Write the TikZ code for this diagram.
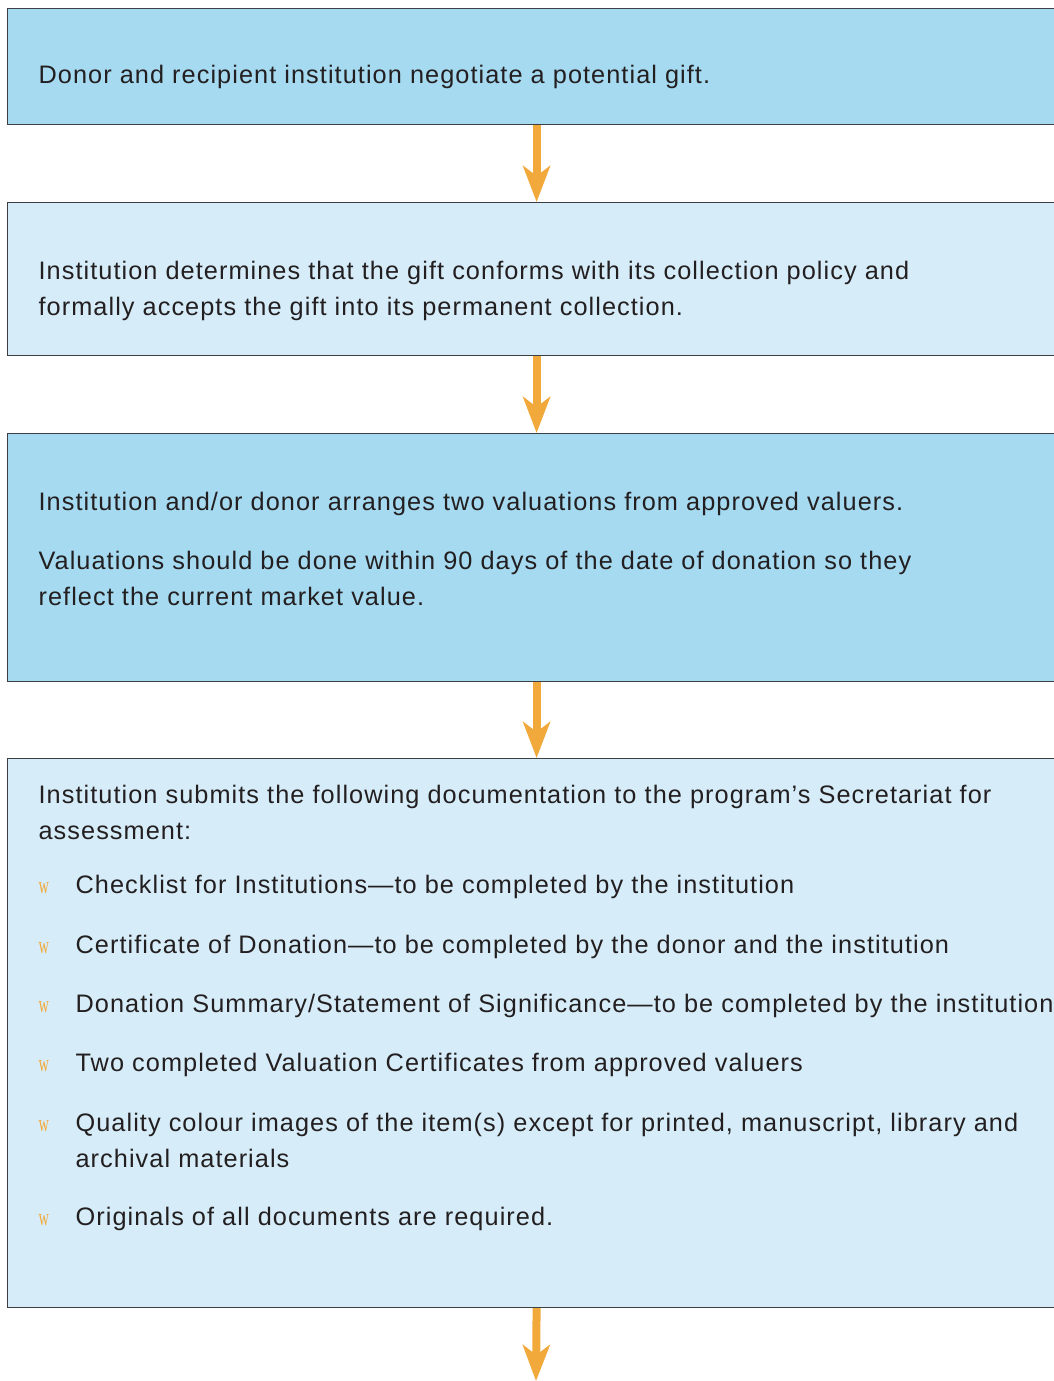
\documentclass[tikz,border=0pt]{standalone}
\usepackage{fontspec}
\usepackage{graphicx}
\setmainfont[LetterSpace=4.2]{Liberation Sans}
\newfontfamily\bulletfont{Liberation Serif}
\usetikzlibrary{arrows.meta}
\definecolor{boxdark}{HTML}{A5DAF1}
\definecolor{boxlight}{HTML}{D6EDF9}
\definecolor{boxline}{HTML}{3C3F44}
\definecolor{arrowor}{HTML}{F2A93B}
\definecolor{ink}{HTML}{231F20}
\newcommand{\wbul}{{\bulletfont\fontsize{24}{24}\selectfont\scalebox{0.6}[1]{w}}}

\begin{document}
\begin{tikzpicture}[x=1pt, y=1pt, line width=1.2pt, font=\fontsize{25.3}{36}\selectfont, text=ink]
	\tikzstyle{box} = [draw=boxline, anchor=north west, minimum width=1058pt, inner sep=0pt]
	\tikzstyle{dark} = [box, fill=boxdark]
	\tikzstyle{light} = [box, fill=boxlight]
	\tikzstyle{txt} = [anchor=base west, align=left, inner sep=0pt]
	\tikzstyle{bul} = [anchor=base west, inner sep=0pt, text=arrowor]
	\tikzstyle{arr} = [draw=arrowor, line width=8pt, -{Stealth[length=36pt, width=27pt, inset=10pt]}]
	\useasboundingbox (0,0) rectangle (1054,-1381);
	\clip (0,0) rectangle (1054,-1381);
	% the four steps
	\node[dark, minimum height=116pt] (box1) at (7,-8) {};
	\node[light, minimum height=153pt] (box2) at (7,-202) {};
	\node[dark, minimum height=248pt] (box3) at (7,-433) {};
	\node[light, minimum height=549pt] (box4) at (7,-758) {};
	\coordinate (end) at (536,-1381);
	\draw[arr] (box1.south) -- (box2.north);
	\draw[arr] (box2.south) -- (box3.north);
	\draw[arr] (box3.south) -- (box4.north);
	\draw[arr] (box4.south) -- (end);
	% texts (multi-line nodes sit on their last baseline)
	\node[txt] (t1) at (38,-83) {Donor and recipient institution negotiate a potential gift.};
	\node[txt] (t2) at (38,-315) {Institution determines that the gift conforms with its collection policy and\\formally accepts the gift into its permanent collection.};
	\node[txt] (t3a) at (38,-510) {Institution and/or donor arranges two valuations from approved valuers.};
	\node[txt] (t3b) at (38,-605) {Valuations should be done within 90 days of the date of donation so they\\reflect the current market value.};
	\node[txt] (t4) at (38,-839) {Institution submits the following documentation to the program’s Secretariat for\\assessment:};
	\node[bul] (b1) at (38,-893) {\wbul};
	\node[txt] (i1) at (75,-893) {Checklist for Institutions—to be completed by the institution};
	\node[bul] (b2) at (38,-953) {\wbul};
	\node[txt] (i2) at (75,-953) {Certificate of Donation—to be completed by the donor and the institution};
	\node[bul] (b3) at (38,-1012) {\wbul};
	\node[txt] (i3) at (75,-1012) {Donation Summary/Statement of Significance—to be completed by the institution};
	\node[bul] (b4) at (38,-1071) {\wbul};
	\node[txt] (i4) at (75,-1071) {Two completed Valuation Certificates from approved valuers};
	\node[bul] (b5) at (38,-1131) {\wbul};
	\node[txt] (i5) at (75,-1167) {Quality colour images of the item(s) except for printed, manuscript, library and\\archival materials};
	\node[bul] (b6) at (38,-1225) {\wbul};
	\node[txt] (i6) at (75,-1225) {Originals of all documents are required.};
\end{tikzpicture}
\end{document}
